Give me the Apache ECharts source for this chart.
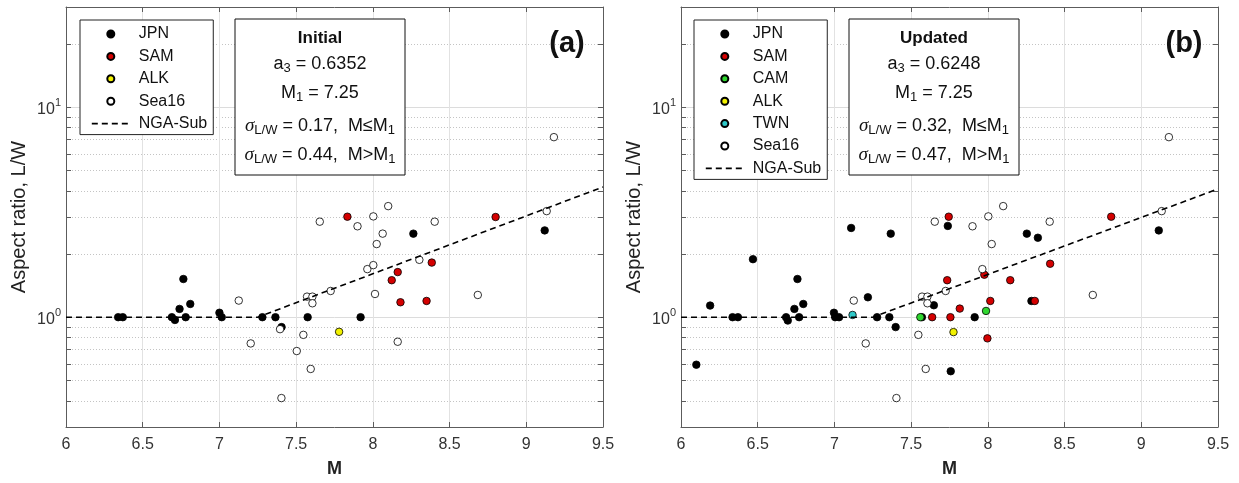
<!DOCTYPE html>
<html>
<head>
<meta charset="utf-8">
<script src="https://cdn.jsdelivr.net/npm/echarts@6/dist/echarts.min.js"></script>
<style>
  html, body { margin: 0; padding: 0; background: #fff; }
  #chart { width: 1239px; height: 483px; }
</style>
</head>
<body>
<div id="chart"></div>
<script>
// ---- Panel (a): initial dataset, [M, L/W] ----
const jpnA = [[6.34,1.0],[6.37,1.0],[6.69,1.0],[6.71,0.97],[6.74,1.095],[6.765,1.52],[6.78,1.0],[6.81,1.156],
  [7.0,1.05],[7.015,1.0],[7.28,1.0],[7.365,1.0],[7.405,0.897],[7.575,1.0],[7.92,1.0],[8.264,2.5],[9.12,2.59]];
const samA = [[7.834,3.01],[8.123,1.50],[8.162,1.64],[8.18,1.178],[8.35,1.195],[8.384,1.82],[8.80,3.0]];
const alkA = [[7.78,0.852]];
const seaA = [[7.126,1.20],[7.204,0.75],[7.395,0.877],[7.404,0.412],[7.504,0.69],[7.547,0.824],[7.571,1.253],
  [7.606,1.253],[7.606,1.165],[7.595,0.567],[7.654,2.85],[7.725,1.333],[7.90,2.71],[7.964,1.694],[8.003,1.77],
  [8.003,3.02],[8.014,1.29],[8.025,2.23],[8.064,2.50],[8.10,3.38],[8.162,0.764],[8.303,1.876],[8.403,2.85],
  [8.684,1.276],[9.133,3.2],[9.18,7.2]];
const ngaA = [[6.0,1.0],[7.25,1.0],[9.5,4.17]];

// ---- Panel (b): updated dataset, [M, L/W] ----
const jpnB = [[6.10,0.594],[6.19,1.136],[6.336,1.0],[6.371,1.0],[6.469,1.889],[6.685,1.0],[6.696,0.964],
  [6.739,1.095],[6.759,1.52],[6.77,1.0],[6.797,1.156],[6.997,1.05],[7.005,1.0],[7.03,1.0],[7.109,2.66],
  [7.218,1.244],[7.278,1.0],[7.358,1.0],[7.367,2.50],[7.399,0.897],[7.57,1.0],[7.648,1.14],[7.739,2.72],
  [7.758,0.553],[7.914,1.0],[8.254,2.5],[8.284,1.195],[8.326,2.39],[9.114,2.59]];
const samB = [[7.637,1.0],[7.735,1.50],[7.745,3.01],[7.756,1.0],[7.817,1.099],[7.977,1.593],[7.997,0.793],
  [8.016,1.195],[8.146,1.50],[8.306,1.195],[8.406,1.797],[8.804,3.01]];
const camB = [[7.56,1.0],[7.988,1.071]];
const alkB = [[7.776,0.849]];
const twnB = [[7.118,1.025]];
const seaB = [[7.126,1.20],[7.204,0.75],[7.404,0.412],[7.547,0.824],[7.571,1.253],[7.606,1.253],[7.606,1.165],
  [7.595,0.567],[7.654,2.85],[7.725,1.333],[7.90,2.71],[7.964,1.694],[8.003,3.02],[8.025,2.23],[8.10,3.38],
  [8.403,2.85],[8.684,1.276],[9.133,3.2],[9.18,7.2]];
const ngaB = [[6.0,1.0],[7.25,1.0],[9.5,4.08]];

// ---- Axis ticks ----
const xTicks = [6, 6.5, 7, 7.5, 8, 8.5, 9, 9.5];
const yMajor = [1, 10];
const yMinor = [0.4,0.5,0.6,0.7,0.8,0.9,1,2,3,4,5,6,7,8,9,10,20];

const FONT = "'Liberation Sans', Arial, Helvetica, sans-serif";
const AXIS_COLOR = '#5c5c5c';
const LABEL_COLOR = '#333';

const styles = {
  JPN:   { color: '#000000' },
  SAM:   { color: '#d40000' },
  CAM:   { color: '#2fd62f' },
  ALK:   { color: '#f2f200' },
  TWN:   { color: '#2ec8c8' },
  Sea16: { color: '#ffffff' }
};

const grids = [
  { left: 66, top: 7, width: 537, height: 422 },
  { left: 681, top: 7, width: 537, height: 422 }
];

const xAxes = [];
const yAxes = [];
grids.forEach((g, i) => {
  // bottom axis with labels
  xAxes.push({
    gridIndex: i, type: 'value', position: 'bottom', min: 6, max: 9.5, interval: 0.5,
    name: 'M', nameLocation: 'middle', nameGap: 33,
    nameTextStyle: { fontFamily: FONT, fontSize: 18, fontWeight: 'bold', color: '#222' },
    axisLine: { show: true, onZero: false, lineStyle: { color: AXIS_COLOR, width: 1 } },
    axisTick: { show: true, inside: true, length: 5, lineStyle: { color: AXIS_COLOR }, customValues: xTicks },
    axisLabel: { fontFamily: FONT, fontSize: 16, color: LABEL_COLOR, margin: 10, customValues: xTicks },
    splitLine: { show: true, lineStyle: { color: '#e2e2e2', width: 1 } }
  });
  // top box edge with ticks
  xAxes.push({
    gridIndex: i, type: 'value', position: 'top', min: 6, max: 9.5, interval: 0.5,
    axisLine: { show: true, onZero: false, lineStyle: { color: AXIS_COLOR, width: 1 } },
    axisTick: { show: true, inside: true, length: 5, lineStyle: { color: AXIS_COLOR }, customValues: xTicks },
    axisLabel: { show: false },
    splitLine: { show: false }
  });
  // left log axis: minor dotted grid, labels at decades
  yAxes.push({
    gridIndex: i, type: 'log', logBase: 10, position: 'left', min: 0.3, max: 30,
    name: 'Aspect ratio, L/W', nameLocation: 'middle', nameGap: 37,
    nameTextStyle: { fontFamily: FONT, fontSize: 20, color: '#222' },
    axisLine: { show: true, onZero: false, lineStyle: { color: AXIS_COLOR, width: 1 } },
    axisTick: { show: true, inside: true, length: 5, lineStyle: { color: AXIS_COLOR }, customValues: yMinor },
    axisLabel: {
      customValues: yMajor, margin: 5,
      formatter: v => '{b|10}{s|' + Math.round(Math.log10(v)) + '}',
      rich: {
        b: { fontFamily: FONT, fontSize: 16, color: LABEL_COLOR, lineHeight: 20, verticalAlign: 'bottom' },
        s: { fontFamily: FONT, fontSize: 11, color: LABEL_COLOR, lineHeight: 14, verticalAlign: 'top' }
      }
    },
    splitLine: { show: true, lineStyle: { color: '#c4c4c4', width: 1, type: [1, 2] } }
  });
  // right box edge with ticks
  yAxes.push({
    gridIndex: i, type: 'log', logBase: 10, position: 'right', min: 0.3, max: 30,
    axisLine: { show: true, onZero: false, lineStyle: { color: AXIS_COLOR, width: 1 } },
    axisTick: { show: true, inside: true, length: 5, lineStyle: { color: AXIS_COLOR }, customValues: yMinor },
    axisLabel: { show: false },
    splitLine: { show: false }
  });
  // solid grid at the decades
  yAxes.push({
    gridIndex: i, type: 'log', logBase: 10, position: 'left', min: 0.3, max: 30,
    axisLine: { show: false },
    axisTick: { show: false, customValues: yMajor },
    axisLabel: { show: false },
    splitLine: { show: true, lineStyle: { color: '#dcdcdc', width: 1, type: 'solid' } }
  });
});

function scatter(name, data, panel) {
  return {
    type: 'scatter', name, data,
    xAxisIndex: panel * 2, yAxisIndex: panel * 3,
    symbol: 'circle', symbolSize: 7.5,
    itemStyle: { color: styles[name].color, borderColor: '#000', borderWidth: 0.8, opacity: 1 },
    emphasis: { disabled: true }, z: 3
  };
}
function ngaLine(data, panel) {
  return {
    type: 'line', name: 'NGA-Sub', data,
    xAxisIndex: panel * 2, yAxisIndex: panel * 3,
    symbol: 'none', showSymbol: false,
    lineStyle: { color: '#000', width: 1.6, type: [6, 4] },
    itemStyle: { color: '#000' },
    emphasis: { disabled: true }, z: 5
  };
}

const series = [
  scatter('JPN', jpnA, 0), scatter('SAM', samA, 0), scatter('ALK', alkA, 0), scatter('Sea16', seaA, 0),
  ngaLine(ngaA, 0),
  scatter('JPN', jpnB, 1), scatter('SAM', samB, 1), scatter('CAM', camB, 1), scatter('ALK', alkB, 1),
  scatter('TWN', twnB, 1), scatter('Sea16', seaB, 1),
  ngaLine(ngaB, 1)
];

function legend(left, names) {
  const data = names.map(n => n === 'NGA-Sub'
    ? { name: n, itemStyle: { opacity: 0 }, lineStyle: { type: [6, 4], width: 1.6, color: '#000' } }
    : { name: n });
  return {
    left, top: 20, orient: 'vertical', data,
    itemWidth: 38, itemHeight: 7, itemGap: 6.4,
    padding: [6, 6, 3, 11],
    borderColor: '#222', borderWidth: 1, backgroundColor: '#fff',
    selectedMode: false,
    textStyle: { fontFamily: FONT, fontSize: 16, color: '#111', lineHeight: 16, padding: [0, 0, 0, 4] }
  };
}

// parameter boxes
function paramBox(x, y, w, h, title, a3, m1, s1, s2) {
  const cx = x + w / 2;
  const rich = {
    t: { fontFamily: FONT, fontSize: 18, color: '#111', lineHeight: 22, verticalAlign: 'middle' },
    sub: { fontFamily: FONT, fontSize: 13, color: '#111', lineHeight: 10, verticalAlign: 'bottom' },
    sig: { fontFamily: "'Liberation Serif', 'DejaVu Serif', serif", fontStyle: 'italic', fontSize: 19, color: '#111', lineHeight: 22, verticalAlign: 'middle' }
  };
  const line = (text, ty) => ({
    type: 'text', x: cx, y: ty, z: 10,
    style: { text, rich, align: 'center', verticalAlign: 'middle', fontFamily: FONT, fontSize: 18, fill: '#111' }
  });
  return [
    { type: 'rect', shape: { x, y, width: w, height: h }, z: 9,
      style: { fill: '#fff', stroke: '#111', lineWidth: 1 } },
    { type: 'text', x: cx, y: y + 19, z: 10,
      style: { text: title, align: 'center', verticalAlign: 'middle', fontFamily: FONT, fontSize: 17, fontWeight: 'bold', fill: '#111' } },
    line('{t|a}{sub|3}{t| = ' + a3 + '}', y + 45),
    line('{t|M}{sub|1}{t| = ' + m1 + '}', y + 74),
    line('{sig|σ}{sub|L/W}{t| = ' + s1 + ',  M≤M}{sub|1}', y + 107),
    line('{sig|σ}{sub|L/W}{t| = ' + s2 + ',  M>M}{sub|1}', y + 136)
  ];
}

const graphic = [
  ...paramBox(235, 19, 170, 156, 'Initial', '0.6352', '7.25', '0.17', '0.44'),
  ...paramBox(849, 19, 170, 156, 'Updated', '0.6248', '7.25', '0.32', '0.47'),
  { type: 'text', x: 567, y: 44, z: 10,
    style: { text: '(a)', align: 'center', verticalAlign: 'middle', fontFamily: FONT, fontSize: 29, fontWeight: 'bold', fill: '#111' } },
  { type: 'text', x: 1184, y: 44, z: 10,
    style: { text: '(b)', align: 'center', verticalAlign: 'middle', fontFamily: FONT, fontSize: 29, fontWeight: 'bold', fill: '#111' } }
];

const chart = echarts.init(document.getElementById('chart'), null, { renderer: 'canvas' });
chart.setOption({
  animation: false,
  backgroundColor: '#fff',
  grid: grids,
  xAxis: xAxes,
  yAxis: yAxes,
  legend: [
    legend(80, ['JPN', 'SAM', 'ALK', 'Sea16', 'NGA-Sub']),
    legend(694, ['JPN', 'SAM', 'CAM', 'ALK', 'TWN', 'Sea16', 'NGA-Sub'])
  ],
  series,
  graphic
});
</script>
</body>
</html>
